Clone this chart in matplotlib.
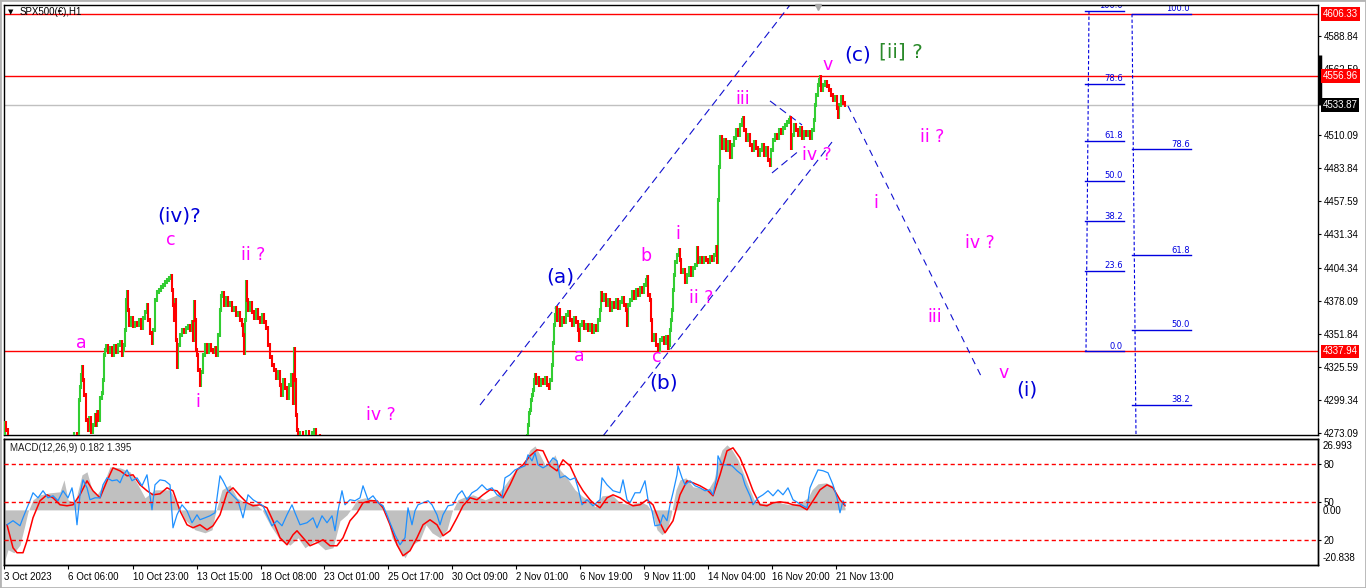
import matplotlib
matplotlib.use("Agg")
import matplotlib.pyplot as plt
from matplotlib.collections import LineCollection
from matplotlib.patches import Rectangle

plt.rcParams["font.family"] = ["Liberation Sans", "DejaVu Sans"]

# ---------------------------------------------------------------- data
SYMBOL = "SPX500(€),H1"
MACD_TITLE = "MACD(12,26,9) 0.182 1.395"

DATE_LABELS = ["3 Oct 2023", "6 Oct 06:00", "10 Oct 23:00", "13 Oct 15:00", "18 Oct 08:00",
               "23 Oct 01:00", "25 Oct 17:00", "30 Oct 09:00", "2 Nov 01:00", "6 Nov 19:00",
               "9 Nov 11:00", "14 Nov 04:00", "16 Nov 20:00", "21 Nov 13:00"]
DATE_BARS = [0, 64, 129, 193, 257, 320, 384, 448, 512, 576, 640, 704, 768, 832]

PRICE_TICKS = [4588.84, 4562.59, 4536.34, 4510.09, 4483.84, 4457.59, 4431.34,
               4404.34, 4378.09, 4351.84, 4325.59, 4299.34, 4273.09]
RED_LEVELS = [4606.33, 4556.96, 4337.94]
LAST_PRICE = 4533.87

# (bar, close) -- October part, the chart clips what falls below its floor
PRICE_OCT = [
    (0, 4270.7), (1, 4281.0), (2, 4275.4), (4, 4262), (20, 4250), (40, 4245), (60, 4255),
    (70, 4272.3), (73, 4270.7), (75, 4299.3), (76, 4309.6), (77, 4319.2), (78, 4325.5),
    (79, 4315.2), (80, 4303.3), (82, 4283.4), (84, 4275.4), (85, 4285.0), (87, 4273.8),
    (89, 4279.4), (91, 4287.4), (92, 4279.4), (93, 4289.8), (94, 4283.4), (96, 4300.9),
    (98, 4304.9), (99, 4315.2), (100, 4335.1), (101, 4339.1), (102, 4342.3), (104, 4337.5),
    (106, 4340.7), (108, 4335.1), (110, 4342.3), (112, 4337.5), (114, 4343.0), (116, 4345.4),
    (118, 4335.1), (119, 4339.1), (120, 4343.0), (121, 4355.0), (122, 4378.9), (123, 4385.2),
    (124, 4370.9), (125, 4359.0), (127, 4364.5), (129, 4358.2), (131, 4360.6), (133, 4359.0),
    (135, 4362.9), (137, 4356.6), (139, 4364.5), (141, 4369.3), (143, 4374.9), (144, 4362.9),
    (146, 4352.6), (148, 4344.6), (149, 4355.0), (151, 4378.9), (153, 4385.2), (155, 4386.8),
    (157, 4389.2), (159, 4390.8), (161, 4393.2), (163, 4394.8), (165, 4396.4), (167, 4397.9),
    (168, 4386.8), (169, 4374.9), (170, 4362.9), (171, 4378.9), (172, 4347.0), (173, 4325.5),
    (174, 4343.0), (176, 4351.0), (178, 4355.0), (180, 4353.4), (182, 4356.6), (184, 4358.2),
    (186, 4355.0), (188, 4361.4), (189, 4347.0), (190, 4377.3), (191, 4362.9), (192, 4339.1),
    (193, 4335.1), (194, 4323.2), (196, 4311.2), (197, 4321.6), (199, 4335.1), (201, 4343.0),
    (203, 4337.5), (205, 4343.0), (207, 4339.1), (209, 4337.5), (211, 4340.7), (212, 4335.1),
    (214, 4351.0), (216, 4370.9), (217, 4382.0), (218, 4384.4), (220, 4374.9), (222, 4380.4),
    (224, 4374.9), (226, 4376.5), (228, 4370.9), (230, 4372.5), (232, 4366.9), (234, 4368.5),
    (236, 4362.9), (238, 4359.0), (239, 4351.0), (240, 4336.7), (241, 4362.9), (242, 4393.2),
    (243, 4378.9), (244, 4370.9), (246, 4376.5), (248, 4369.3), (250, 4364.5), (252, 4370.9),
    (254, 4364.5), (256, 4361.4), (258, 4366.9), (260, 4361.4), (262, 4356.6), (264, 4343.0),
    (266, 4333.5), (268, 4327.1), (270, 4323.2), (272, 4316.8), (274, 4321.6), (276, 4311.2),
    (277, 4303.3), (279, 4315.2), (281, 4308.9), (283, 4300.9), (285, 4311.2), (287, 4319.2),
    (289, 4296.9), (290, 4339.9), (291, 4315.2), (292, 4287.4), (293, 4275.4), (294, 4270.7),
    (296, 4273.1), (299, 4270.7), (302, 4273.8), (305, 4270.7), (308, 4273.1), (310, 4275.4),
    (312, 4270.7), (316, 4262), (340, 4240), (380, 4215), (420, 4205), (460, 4220),
    (490, 4240), (515, 4258),
]

# (bar, close) -- November part
PRICE_NOV = [
    (523, 4270.7), (524, 4279.4), (525, 4289.0), (526, 4291.3), (527, 4299.3), (528, 4303.3),
    (529, 4307.3), (530, 4315.2), (531, 4319.2), (532, 4312.8), (533, 4316.8), (535, 4311.2),
    (537, 4315.2), (539, 4312.8), (541, 4316.8), (543, 4311.2), (545, 4308.9), (546, 4315.2),
    (548, 4327.1), (549, 4344.6), (550, 4359.0), (551, 4366.9), (552, 4372.5), (553, 4362.9),
    (554, 4370.9), (556, 4359.0), (558, 4364.5), (560, 4361.4), (562, 4366.9), (564, 4369.3),
    (566, 4362.9), (568, 4359.0), (570, 4364.5), (572, 4361.4), (574, 4355.0), (575, 4347.0),
    (576, 4359.0), (578, 4361.4), (580, 4356.6), (582, 4359.0), (584, 4355.0), (586, 4359.0),
    (588, 4353.4), (590, 4358.2), (592, 4355.0), (594, 4362.9), (596, 4370.9), (597, 4384.4),
    (598, 4378.9), (600, 4382.8), (602, 4374.9), (604, 4378.9), (606, 4370.9), (608, 4376.5),
    (610, 4373.3), (612, 4378.9), (614, 4372.5), (616, 4377.3), (618, 4380.4), (620, 4374.9),
    (622, 4370.9), (623, 4359.0), (624, 4374.9), (626, 4378.9), (628, 4385.2), (630, 4380.4),
    (632, 4386.8), (634, 4382.8), (636, 4388.4), (638, 4385.2), (640, 4390.8), (642, 4394.8),
    (643, 4397.2), (644, 4382.8), (646, 4378.9), (647, 4362.9), (648, 4347.0), (650, 4351.0),
    (652, 4343.0), (654, 4339.1), (656, 4347.0), (658, 4348.6), (660, 4344.6), (662, 4349.4),
    (664, 4340.7), (665, 4343.0), (666, 4355.0), (667, 4362.9), (668, 4370.9), (669, 4386.8),
    (670, 4398.7), (671, 4409.1), (673, 4414.7), (675, 4418.6), (676, 4410.7), (677, 4401.1),
    (679, 4402.7), (681, 4393.2), (683, 4398.7), (685, 4404.3), (687, 4398.7), (689, 4404.3),
    (691, 4406.7), (693, 4420.2), (694, 4409.1), (696, 4412.3), (698, 4409.1), (700, 4412.3),
    (702, 4410.7), (704, 4409.1), (706, 4413.1), (708, 4410.7), (710, 4414.7), (712, 4421.0),
    (713, 4409.1), (714, 4458.4), (715, 4484.7), (716, 4508.5), (718, 4499.8), (720, 4506.1),
    (722, 4498.2), (724, 4504.5), (726, 4492.6), (728, 4502.2), (730, 4507.7), (732, 4514.1),
    (734, 4510.1), (736, 4518.1), (738, 4522.0), (739, 4523.6), (740, 4514.1), (742, 4506.1),
    (744, 4510.1), (746, 4502.2), (748, 4498.2), (750, 4504.5), (752, 4499.8), (754, 4494.2),
    (756, 4498.2), (758, 4502.2), (760, 4494.2), (762, 4499.8), (764, 4490.2), (766, 4486.2),
    (767, 4498.2), (769, 4506.1), (771, 4510.1), (773, 4507.7), (775, 4514.1), (777, 4511.7),
    (779, 4515.7), (781, 4518.1), (783, 4520.5), (785, 4522.0), (786, 4523.6), (787, 4499.8),
    (788, 4510.1), (790, 4518.1), (792, 4514.1), (794, 4510.1), (796, 4515.7), (798, 4507.7),
    (800, 4512.5), (802, 4510.1), (804, 4512.5), (806, 4507.7), (808, 4514.1), (810, 4522.0),
    (811, 4534.0), (812, 4541.9), (814, 4549.9), (815, 4553.9), (816, 4556.3), (817, 4545.9),
    (819, 4549.9), (821, 4552.3), (823, 4549.1), (825, 4545.9), (827, 4541.9), (829, 4538.0),
    (831, 4540.3), (833, 4531.6), (834, 4524.4), (835, 4534.0), (837, 4540.3), (839, 4535.6),
    (841, 4533.9),
]

MACD_HIST = [
    (1, -18.85), (4, -15.07), (10, -16.2), (16, -13.3), (21, -5.63), (24, -0.72), (29, 3.82),
    (36, 5.7), (46, 6.46), (56, 6.84), (60, 11.37), (64, 3.82), (71, 2.68), (78, 13.26),
    (83, 14.4), (88, 7.59), (93, 5.7), (99, 9.48), (106, 16.28), (116, 15.9), (126, 14.4),
    (134, 9.48), (141, 4.57), (151, 7.59), (166, 7.59), (174, 1.93), (181, -3.74), (191, -7.52),
    (201, -8.65), (208, -7.52), (211, -1.85), (218, 7.59), (226, 9.48), (233, 4.57), (241, 2.68),
    (251, 2.31), (258, 0.04), (266, -5.63), (276, -11.3), (286, -13.3), (294, -10.54),
    (301, -14.32), (311, -11.67), (321, -15.07), (329, -14.32), (336, -4.12), (343, -1.85),
    (348, 0.79), (353, 3.82), (361, 4.57), (371, 3.82), (379, 1.93), (383, -1.85), (388, -10.54),
    (394, -14.32), (401, -18.1), (408, -13.3), (416, -11.3), (422, -5.63), (428, -8.65),
    (436, -10.54), (443, -7.52), (448, -0.72), (454, 3.82), (461, 4.95), (469, 5.7), (481, 3.82),
    (493, 5.7), (501, 9.48), (506, 12.13), (513, 15.9), (519, 17.04), (526, 22.71), (531, 24.2),
    (536, 20.82), (541, 17.04), (546, 18.17), (551, 20.82), (556, 15.15), (563, 12.13),
    (571, 7.59), (579, 4.95), (586, 3.82), (591, 1.17), (598, 5.33), (608, 5.7), (616, 2.68),
    (626, 1.93), (636, 3.06), (643, 1.93), (648, -0.72), (653, -7.52), (658, -9.41), (663, -7.52),
    (667, -1.85), (672, 7.59), (676, 11.37), (682, 12.13), (689, 8.73), (696, 8.35), (704, 7.59),
    (710, 11.37), (714, 18.17), (718, 22.71), (723, 24.6), (728, 22.71), (734, 18.93),
    (740, 13.26), (746, 7.59), (751, 3.06), (761, 2.31), (771, 3.06), (786, 1.93), (796, 2.68),
    (804, 4.57), (808, 7.59), (814, 9.86), (822, 10.24), (829, 9.11), (834, 4.57), (839, 1.93),
    (841, 0.79),
]

MACD_SIGNAL = [
    (3, -5.63), (9, -14.32), (13, -16.2), (19, -16.2), (23, -11.67), (29, -2.98), (36, 3.44),
    (43, 5.7), (49, 4.57), (56, 1.93), (63, 1.55), (69, 1.93), (76, 5.7), (83, 10.99), (89, 7.22),
    (96, 4.57), (103, 10.99), (109, 15.9), (116, 14.77), (123, 12.88), (129, 13.26), (136, 9.48),
    (143, 7.22), (149, 5.7), (156, 6.08), (163, 8.35), (169, 7.22), (176, -0.34), (183, -5.63),
    (189, -6.76), (196, -5.63), (203, -7.52), (209, -6.01), (216, -1.85), (223, 6.46), (229, 8.35),
    (236, 5.33), (243, 2.68), (249, 1.55), (256, 1.93), (263, 0.79), (269, -4.12), (276, -10.54),
    (283, -13.19), (289, -9.41), (293, -7.9), (299, -10.54), (306, -13.56), (313, -12.43),
    (319, -11.3), (326, -13.56), (333, -13.56), (339, -10.54), (346, -4.12), (353, -1.1),
    (359, 2.68), (366, 3.44), (373, 3.44), (379, 0.79), (386, -5.63), (393, -13.19),
    (399, -17.34), (406, -15.45), (413, -10.54), (419, -5.63), (426, -3.74), (433, -5.63),
    (439, -9.78), (446, -7.9), (453, -2.98), (459, 1.55), (466, 4.57), (473, 3.82), (479, 5.7),
    (486, 7.59), (493, 7.22), (499, 4.57), (506, 9.48), (513, 15.15), (519, 17.04), (526, 20.44),
    (533, 22.71), (539, 22.33), (546, 16.66), (553, 14.77), (559, 18.93), (566, 16.66),
    (573, 10.99), (579, 7.22), (586, 3.82), (589, 2.68), (596, 0.79), (603, 4.57), (609, 5.7),
    (616, 4.57), (623, 2.68), (629, 1.55), (636, 1.93), (643, 3.82), (649, 1.93), (656, -4.87),
    (661, -8.65), (669, -4.12), (676, 5.7), (683, 10.99), (689, 10.24), (696, 9.11), (703, 7.59),
    (709, 5.33), (716, 13.26), (723, 22.33), (729, 23.46), (736, 19.68), (743, 13.26),
    (749, 7.22), (756, 1.93), (763, 1.55), (769, 2.68), (776, 3.06), (783, 2.68), (789, 1.93),
    (796, 1.55), (803, 0.04), (809, 3.44), (816, 7.59), (823, 9.48), (829, 8.35), (836, 3.82),
    (841, 1.55),
]

# blue oscillator, on the 0..100 scale of the 80/50/20 levels
OSC_LINE = [
    (3, 31.8), (9, 35.0), (16, 31.0), (19, 37.3), (23, 45.2), (26, 50.8), (29, 57.1), (34, 53.1),
    (39, 58.7), (44, 53.1), (49, 54.7), (54, 50.8), (59, 58.7), (64, 53.1), (68, 61.0),
    (71, 47.6), (73, 31.8), (76, 55.5), (79, 67.3), (83, 61.0), (86, 51.6), (91, 53.1), (96, 53.1),
    (99, 63.4), (103, 68.9), (108, 66.6), (113, 67.3), (116, 65.0), (119, 70.5), (123, 75.2),
    (128, 66.6), (133, 68.9), (138, 62.6), (143, 71.3), (148, 43.7), (151, 63.4), (156, 67.3),
    (161, 66.6), (166, 63.4), (169, 29.4), (173, 39.7), (178, 47.6), (183, 42.9), (188, 33.4),
    (193, 39.7), (196, 35.8), (201, 37.3), (206, 38.9), (211, 41.3), (216, 70.5), (219, 66.6),
    (224, 58.7), (229, 54.7), (234, 50.8), (239, 37.3), (244, 55.5), (249, 51.6), (254, 49.2),
    (259, 46.8), (263, 39.7), (268, 31.0), (273, 35.0), (278, 31.0), (283, 39.7), (288, 47.6),
    (291, 41.3), (296, 31.8), (303, 33.4), (309, 37.3), (313, 29.4), (318, 38.9), (323, 33.4),
    (328, 38.9), (331, 27.1), (334, 42.9), (338, 58.7), (341, 47.6), (346, 51.6), (351, 50.8),
    (356, 53.1), (359, 62.6), (364, 51.6), (369, 54.7), (374, 49.2), (379, 46.8), (383, 39.7),
    (386, 33.4), (391, 23.9), (396, 16.0), (401, 21.6), (404, 45.2), (408, 31.8), (411, 42.9),
    (414, 47.6), (419, 49.2), (424, 50.8), (428, 47.6), (433, 39.7), (436, 31.8), (439, 39.7),
    (444, 46.8), (449, 47.6), (454, 55.5), (458, 58.7), (463, 51.6), (468, 57.1), (473, 59.4),
    (478, 63.4), (483, 59.4), (488, 61.0), (493, 55.5), (498, 53.1), (501, 68.9), (506, 71.3),
    (511, 75.2), (516, 76.8), (521, 78.4), (524, 87.1), (528, 82.3), (531, 88.7), (534, 79.2),
    (539, 76.8), (544, 79.2), (549, 84.7), (553, 82.3), (556, 68.9), (561, 70.5), (566, 67.3),
    (571, 68.9), (574, 61.0), (578, 47.6), (583, 51.6), (589, 46.8), (596, 51.6), (598, 68.9),
    (603, 63.4), (609, 58.7), (616, 57.1), (619, 67.3), (623, 51.6), (626, 49.2), (631, 57.1),
    (636, 57.1), (641, 66.6), (644, 51.6), (648, 42.9), (651, 31.0), (656, 31.8), (659, 39.7),
    (663, 35.0), (666, 47.6), (669, 57.1), (673, 71.3), (674, 78.4), (678, 68.9), (681, 63.4),
    (686, 66.6), (691, 62.6), (696, 61.0), (701, 58.7), (706, 59.4), (709, 55.5), (713, 70.5),
    (714, 86.3), (718, 79.2), (723, 79.2), (728, 78.4), (733, 74.5), (738, 71.3), (741, 63.4),
    (746, 54.7), (749, 47.6), (754, 53.1), (759, 55.5), (764, 58.7), (769, 54.7), (774, 59.4),
    (779, 55.5), (784, 61.0), (789, 51.6), (794, 49.2), (799, 46.8), (803, 45.2), (806, 61.0),
    (809, 66.6), (814, 75.2), (819, 74.5), (824, 72.9), (829, 63.4), (833, 53.1), (836, 41.3),
    (839, 50.8), (841, 47.6),
]
OSC_LEVELS = [80, 50, 20]
MACD_TOP, MACD_BOTTOM = 26.993, -20.838

# wave labels: (text, bar, price, colour key)
WAVE_LABELS = [
    ("(iv)?", 175, 4446.0, "blue"), ("c", 167, 4426.6, "pink"), ("ii ?", 249, 4414.7, "pink"),
    ("a", 77, 4345.0, "pink"), ("i", 194, 4298.0, "pink"), ("iv ?", 377, 4287.4, "pink"),
    ("(a)", 556, 4397.0, "blue"), ("b", 642, 4414.0, "pink"), ("a", 575, 4334.3, "pink"),
    ("c", 653, 4333.5, "pink"), ("(b)", 660, 4313.0, "blue"), ("i", 674, 4431.0, "pink"),
    ("ii ?", 697, 4380.4, "pink"), ("iii", 739, 4539.0, "pink"), ("iv ?", 813, 4494.5, "pink"),
    ("v", 824, 4566.0, "pink"), ("(c)", 854, 4574.0, "blue"), ("[ii] ?", 897, 4576.5, "green"),
    ("ii ?", 928, 4508.5, "pink"), ("i", 872, 4456.0, "pink"), ("iv ?", 976, 4424.5, "pink"),
    ("iii", 931, 4365.3, "pink"), ("v", 1000, 4320.8, "pink"), ("(i)", 1023, 4307.5, "blue"),
]

# drawn trend lines: (bar0, price0, bar1, price1)
CHANNEL_LINES = [
    (476, 4295.3, 786, 4613.5),
    (599, 4270.7, 828, 4504.5),
    (766, 4537.2, 798, 4518.1),
    (768, 4479.9, 796, 4498.2),
]
PROJECTION_LINE = (844, 4533.2, 978, 4316.8)

FIB_RATIOS_LEFT = [100.0, 78.6, 61.8, 50.0, 38.2, 23.6, 0.0]
FIB_LEFT = (1085, 4608.7, 1082, 4337.94)    # bar/price at 100, bar/price at 0
FIB_RATIOS_RIGHT = [100.0, 78.6, 61.8, 50.0, 38.2, 23.6, 0.0]
FIB_RIGHT = (1128, 4606.33, 1134, 4103.6)

# ---------------------------------------------------------------- style
W, H = 1366, 588
GREEN = "#32cd32"
RED = "#ff0000"
COLORS = {"blue": "#0000d8", "pink": "#ff00ff", "green": "#2a8a2a"}
FIB_BLUE = "#0000e0"
WICK = 1.4
YMIN, YMAX = 4271.5, 4613.9

fig = plt.figure(figsize=(W / 100, H / 100), dpi=100)
fig.patch.set_facecolor("white")
# window frame
fig.patches.append(Rectangle((0, 0), 1, 1, transform=fig.transFigure, fill=False,
                             ec="#b4b4b4", lw=2.0))


def px_axes(left, top, right, bottom):
    return fig.add_axes([left / W, 1 - bottom / H, (right - left) / W, (bottom - top) / H])


ax = px_axes(4, 4.5, 1318.3, 435)
axm = px_axes(4, 438.5, 1318.3, 565)
XMAX = 1314.3

# ---------------------------------------------------------------- price panel
ax.set_xlim(0, XMAX)
ax.set_ylim(YMIN, YMAX)

for lvl in RED_LEVELS:
    ax.axhline(lvl, color=RED, lw=1.0, zorder=1)
ax.axhline(LAST_PRICE, color="#c0c0c0", lw=1.0, zorder=1)

path = PRICE_OCT + PRICE_NOV
up, down = [], []
for (x0, p0), (x1, p1) in zip(path[:-1], path[1:]):
    lo, hi = min(p0, p1), max(p0, p1)
    seg = [(x1, lo - WICK), (x1, hi + WICK)]
    (up if p1 >= p0 else down).append(seg)
ax.add_collection(LineCollection(up, colors=GREEN, linewidths=1.5, zorder=3))
ax.add_collection(LineCollection(down, colors=RED, linewidths=1.5, zorder=3))

for x0, p0, x1, p1 in CHANNEL_LINES:
    ax.plot([x0, x1], [p0, p1], color="#1010d0", lw=0.8, dashes=(7, 4), zorder=2)
x0, p0, x1, p1 = PROJECTION_LINE
ax.plot([x0, x1], [p0, p1], color="#1010d0", lw=0.8, dashes=(6, 5), zorder=2)


def draw_fib(anchor, ratios, x_left, x_right):
    bx_hi, p_hi, bx_lo, p_lo = anchor
    ax.plot([bx_hi, bx_lo], [p_hi, p_lo], color=FIB_BLUE, lw=0.8, dashes=(3, 2), zorder=2)
    for r in ratios:
        lvl = p_lo + r / 100.0 * (p_hi - p_lo)
        if lvl < YMIN:
            continue  # level lies below the visible window
        ax.plot([x_left, x_right], [lvl, lvl], color=FIB_BLUE, lw=1.0, zorder=2)
        ax.text(x_right - 1, lvl + 0.6, f"{r:.1f}", color=FIB_BLUE, fontsize=6,
                ha="right", va="bottom", family="DejaVu Sans", zorder=2, clip_on=True)


draw_fib(FIB_LEFT, FIB_RATIOS_LEFT, 1081, 1120)
draw_fib(FIB_RIGHT, FIB_RATIOS_RIGHT, 1128, 1187)

for text, bx, price, key in WAVE_LABELS:
    size = 12.5 if key == "pink" else 14.5
    ax.text(bx, price, text, color=COLORS[key], fontsize=size, ha="center", va="center",
            family="DejaVu Sans", zorder=5)

ax.set_xticks([])
ax.yaxis.tick_right()
ax.set_yticks(PRICE_TICKS)
ax.set_yticklabels([f"{v:.2f}" for v in PRICE_TICKS])
ax.tick_params(axis="y", length=2.5, width=0.8, labelsize=7, pad=1.5, colors="black")
for sp in ax.spines.values():
    sp.set_color("black")
    sp.set_linewidth(1.0)

yaxis_tf = ax.get_yaxis_transform()
for val, col in [(4606.33, RED), (4556.96, RED), (4533.87, "black"), (4337.94, RED)]:
    ax.annotate(f"{val:.2f}", xy=(1, val), xycoords=yaxis_tf, xytext=(3.2, 0),
                textcoords="offset points", ha="left", va="center", fontsize=7, color="white",
                bbox=dict(boxstyle="square,pad=0.18", fc=col, ec="none"),
                zorder=10, annotation_clip=False)
ax.plot([1.001, 1.001], [LAST_PRICE, 4573.7], transform=yaxis_tf, color="black", lw=2.5,
        clip_on=False, zorder=9, solid_capstyle="butt")

# little grey shift marker at the top
ax.plot([814], [4611.6], marker="v", ms=5, color="#a8a8a8", clip_on=False, zorder=6)

fig.text(8 / W, 1 - 12 / H, "▼", fontsize=5, va="center", ha="left", family="DejaVu Sans")
fig.text(20 / W, 1 - 12 / H, SYMBOL, fontsize=7, va="center", ha="left")

# ---------------------------------------------------------------- MACD panel
axm.set_xlim(0, XMAX)
axm.set_ylim(MACD_BOTTOM, MACD_TOP)
hx, hv = zip(*MACD_HIST)
axm.fill_between(hx, 0, hv, color="#c0c0c0", lw=0, zorder=1)
sx, sv = zip(*MACD_SIGNAL)
axm.plot(sx, sv, color=RED, lw=1.1, zorder=3)

axo = axm.twinx()
axo.set_ylim(0, 100)
ox, ov = zip(*OSC_LINE)
axo.plot(ox, ov, color="#1e90ff", lw=0.9, zorder=2)
for lvl in OSC_LEVELS:
    axo.axhline(lvl, color=RED, lw=1.0, dashes=(3, 2.2), zorder=4)
axo.set_yticks(OSC_LEVELS)
axo.set_yticklabels([str(v) for v in OSC_LEVELS])
axo.tick_params(axis="y", length=2.5, width=0.8, labelsize=7, pad=1.5)
axm.set_yticks([])

macd_tf = axm.get_yaxis_transform()
axm.annotate(f"{MACD_TOP:.3f}", xy=(1, MACD_TOP), xycoords=macd_tf, xytext=(3.2, -2),
             textcoords="offset points", ha="left", va="top", fontsize=7, annotation_clip=False)
axm.annotate("0.00", xy=(1, 0), xycoords=macd_tf, xytext=(3.2, -1),
             textcoords="offset points", ha="left", va="center", fontsize=7, annotation_clip=False)
axm.annotate(f"{MACD_BOTTOM:.3f}", xy=(1, MACD_BOTTOM), xycoords=macd_tf, xytext=(3.2, 1.5),
             textcoords="offset points", ha="left", va="bottom", fontsize=7,
             annotation_clip=False)
axm.annotate(MACD_TITLE, xy=(0, 1), xycoords="axes fraction", xytext=(4.3, -3.3),
             textcoords="offset points", ha="left", va="top", fontsize=7, color="#202020")

axm.set_xticks(DATE_BARS)
axm.set_xticklabels(DATE_LABELS, ha="left")
axm.tick_params(axis="x", length=3, width=0.8, labelsize=7, pad=2)
for a in (axm, axo):
    for sp in a.spines.values():
        sp.set_color("black")
        sp.set_linewidth(1.0)

fig.savefig("out.png", dpi=100, facecolor="white")
